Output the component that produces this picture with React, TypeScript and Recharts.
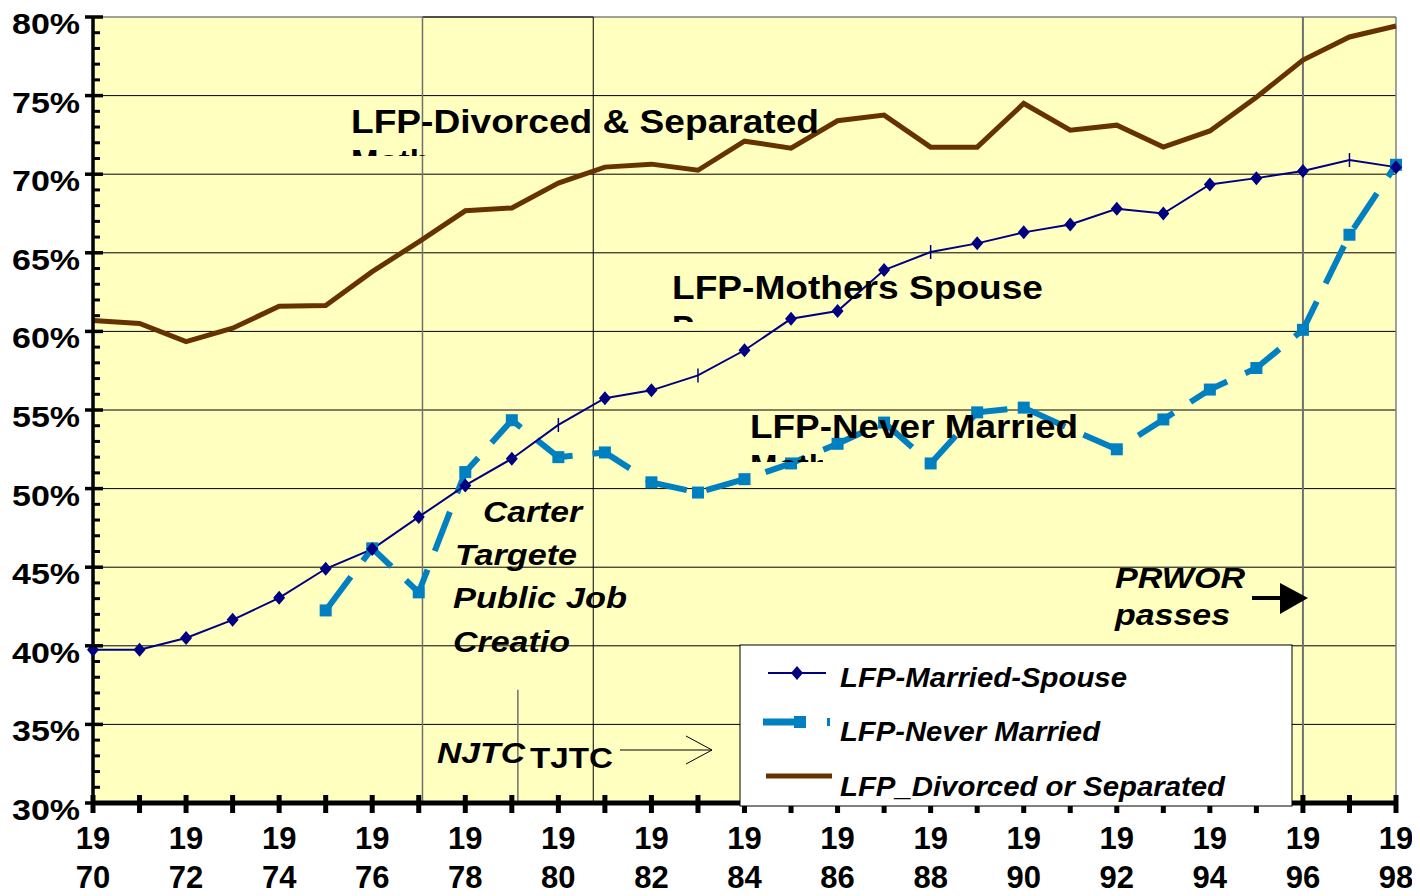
import React from 'react';
import { LineChart, Line, XAxis, YAxis, ReferenceLine, CartesianGrid } from 'recharts';

const years = [1970, 1971, 1972, 1973, 1974, 1975, 1976, 1977, 1978, 1979, 1980, 1981, 1982, 1983, 1984, 1985, 1986, 1987, 1988, 1989, 1990, 1991, 1992, 1993, 1994, 1995, 1996, 1997, 1998];
const marriedSpouse = [39.75, 39.75, 40.5, 41.65, 43.05, 44.9, 46.15, 48.2, 50.2, 51.9, 54.05, 55.75, 56.25, 57.2, 58.8, 60.8, 61.3, 63.9, 65.05, 65.6, 66.3, 66.8, 67.8, 67.5, 69.35, 69.75, 70.2, 70.9, 70.45];
const neverMarried = [null, null, null, null, null, 42.25, 46.2, 43.4, 51.05, 54.35, 52.0, 52.3, 50.4, 49.75, 50.6, 51.6, 52.85, 54.2, 51.6, 54.85, 55.15, 53.8, 52.5, 54.4, 56.3, 57.67, 60.1, 66.15, 70.6];
const divorcedSeparated = [60.7, 60.5, 59.35, 60.2, 61.6, 61.65, 63.8, 65.7, 67.67, 67.85, 69.43, 70.45, 70.64, 70.25, 72.1, 71.66, 73.4, 73.76, 71.72, 71.72, 74.5, 72.8, 73.12, 71.73, 72.75, 74.9, 77.26, 78.73, 79.43];

const gridValues = [35, 40, 45, 50, 55, 60, 65, 70, 75];
const yAllTicks = Array.from({ length: 51 }, (_, i) => 30 + i);
const marriedTickMarkYears = [1980, 1983, 1988, 1997];
const neverNoMarkerYears = [1991];

const NAVY = '#000080';
const BLUE = '#0080C0';
const BROWN = '#663300';
const FONT = "'Liberation Sans', Arial, sans-serif";

const seriesLegend = [
  { name: 'LFP-Married-Spouse', kind: 'married', len: 287 },
  { name: 'LFP-Never Married', kind: 'never', len: 260 },
  { name: 'LFP_Divorced or Separated', kind: 'divorced', len: 385 },
];

const data = years.map((year, i) => ({
  year,
  married: marriedSpouse[i],
  never: neverMarried[i],
  divorced: divorcedSeparated[i],
}));

const YTick = (props: any) => {
  const { x, y, payload } = props;
  const v = payload.value;
  const major = v % 5 === 0;
  return (
    <g>
      {major ? (
        <line x1={x - 8} x2={x + 10} y1={y} y2={y} stroke="#000" strokeWidth={3.5} />
      ) : (
        <line x1={x} x2={x + 7} y1={y} y2={y} stroke="#000" strokeWidth={3} />
      )}
      {major && (
        <text x={x - 13} y={y + 17} textAnchor="end" fontFamily={FONT} fontWeight="bold" fontSize={30} fill="#000" textLength={68} lengthAdjust="spacingAndGlyphs">
          {`${v}%`}
        </text>
      )}
    </g>
  );
};

const XTick = (props: any) => {
  const { x, y, payload } = props;
  const yr = payload.value;
  return (
    <g>
      <line x1={x} x2={x} y1={y - 8} y2={y + 10} stroke="#000" strokeWidth={5} />
      {yr % 2 === 0 && (
        <text textAnchor="middle" fontFamily={FONT} fontWeight="bold" fontSize={31} fill="#000">
          <tspan x={x} y={y + 46}>{String(yr).slice(0, 2)}</tspan>
          <tspan x={x} y={y + 85}>{String(yr).slice(2)}</tspan>
        </text>
      )}
    </g>
  );
};

const MarriedDot = (props: any) => {
  const { cx, cy, payload } = props;
  if (cx == null || cy == null) return <g />;
  if (marriedTickMarkYears.includes(payload.year)) {
    return <line x1={cx} x2={cx} y1={cy - 7} y2={cy + 7} stroke={NAVY} strokeWidth={1.5} />;
  }
  return <polygon points={`${cx},${cy - 7} ${cx + 6},${cy} ${cx},${cy + 7} ${cx - 6},${cy}`} fill={NAVY} />;
};

const NeverDot = (props: any) => {
  const { cx, cy, payload } = props;
  if (cx == null || cy == null || payload.never == null) return <g />;
  if (neverNoMarkerYears.includes(payload.year)) return <g />;
  return <rect x={cx - 6} y={cy - 6} width={12} height={12} fill={BLUE} />;
};

const boldText = { fontFamily: FONT, fontWeight: 'bold' as const, fill: '#000' };

export default function App() {
  return (
    <div style={{ position: 'relative', width: 1404, height: 888 }}>
      <LineChart width={1404} height={888} data={data} margin={{ top: 9, right: 16, bottom: 0, left: 0 }}>
        <CartesianGrid fill="#FFFFC0" horizontal={false} vertical={false} />
        {gridValues.map((v) => (
          <ReferenceLine key={`g${v}`} y={v} stroke="#000" strokeWidth={1} />
        ))}
        <ReferenceLine y={80} stroke="#808080" strokeWidth={1.5} />
        <ReferenceLine x={1998} stroke="#808080" strokeWidth={1.5} />
        <ReferenceLine segment={[{ x: 1977.08, y: 80 }, { x: 1980.75, y: 80 }]} stroke="#000" strokeWidth={1} />
        <ReferenceLine x={1977.08} stroke="#707070" strokeWidth={1.5} />
        <ReferenceLine x={1980.75} stroke="#000" strokeWidth={1} />
        <ReferenceLine x={1996} stroke="#707070" strokeWidth={2} />
        <ReferenceLine segment={[{ x: 1979.13, y: 37.2 }, { x: 1979.13, y: 30 }]} stroke="#707070" strokeWidth={1.5} />
        <XAxis
          type="number"
          dataKey="year"
          domain={[1970, 1998]}
          ticks={years}
          interval={0}
          tick={<XTick />}
          tickLine={false}
          tickSize={0}
          tickMargin={0}
          height={93}
          axisLine={{ stroke: '#000', strokeWidth: 5 }}
        />
        <YAxis
          type="number"
          domain={[30, 80]}
          ticks={yAllTicks}
          interval={0}
          tick={<YTick />}
          tickLine={false}
          tickSize={0}
          tickMargin={0}
          width={85}
          axisLine={{ stroke: '#000', strokeWidth: 3.5 }}
        />
        <Line type="linear" dataKey="divorced" stroke={BROWN} strokeWidth={5} dot={false} activeDot={false} isAnimationActive={false} />
        <Line type="linear" dataKey="never" stroke={BLUE} strokeWidth={6} strokeDasharray="42 20" dot={<NeverDot />} activeDot={false} isAnimationActive={false} />
        <Line type="linear" dataKey="married" stroke={NAVY} strokeWidth={2} dot={<MarriedDot />} activeDot={false} isAnimationActive={false} />
      </LineChart>
      <svg width={1404} height={888} style={{ position: 'absolute', left: 0, top: 0, pointerEvents: 'none' }}>
        <defs>
          <clipPath id="clipDiv"><rect x={330} y={141} width={88} height={7} /></clipPath>
          <clipPath id="clipMoth"><rect x={655} y={306} width={30} height={8} /></clipPath>
          <clipPath id="clipNev"><rect x={735} y={446} width={80} height={8} /></clipPath>
        </defs>
        <text x={343} y={125} {...boldText} fontSize={33} textLength={468} lengthAdjust="spacingAndGlyphs">LFP-Divorced &amp; Separated</text>
        <text x={343} y={165} {...boldText} fontSize={33} clipPath="url(#clipDiv)">Mothers</text>
        <text x={664} y={291} {...boldText} fontSize={33} textLength={371} lengthAdjust="spacingAndGlyphs">LFP-Mothers Spouse</text>
        <text x={664} y={331} {...boldText} fontSize={33} clipPath="url(#clipMoth)">Partner</text>
        <text x={742} y={430} {...boldText} fontSize={33} textLength={328} lengthAdjust="spacingAndGlyphs">LFP-Never Married</text>
        <text x={742} y={470} {...boldText} fontSize={33} clipPath="url(#clipNev)">Mothers</text>

        <text x={475} y={514} {...boldText} fontStyle="italic" fontSize={29} textLength={99} lengthAdjust="spacingAndGlyphs">Carter</text>
        <text x={447} y={557} {...boldText} fontStyle="italic" fontSize={29} textLength={122} lengthAdjust="spacingAndGlyphs">Targete</text>
        <text x={445} y={600} {...boldText} fontStyle="italic" fontSize={29} textLength={174} lengthAdjust="spacingAndGlyphs">Public Job</text>
        <text x={445} y={644} {...boldText} fontStyle="italic" fontSize={29} textLength={117} lengthAdjust="spacingAndGlyphs">Creatio</text>

        <text x={429} y={755} {...boldText} fontStyle="italic" fontSize={29} textLength={88} lengthAdjust="spacingAndGlyphs">NJTC</text>
        <text x={522} y={760} {...boldText} fontSize={29} textLength={83} lengthAdjust="spacingAndGlyphs">TJTC</text>
        <line x1={612} y1={742} x2={704} y2={742} stroke="#000" strokeWidth={1} />
        <polyline points="678,728 704,742 678,756" fill="none" stroke="#000" strokeWidth={1} />

        <text x={1107} y={580} {...boldText} fontStyle="italic" fontSize={29} textLength={130} lengthAdjust="spacingAndGlyphs">PRWOR</text>
        <text x={1107} y={617} {...boldText} fontStyle="italic" fontSize={29} textLength={115} lengthAdjust="spacingAndGlyphs">passes</text>
        <line x1={1244} y1={590} x2={1276} y2={590} stroke="#000" strokeWidth={4} />
        <polygon points="1272,575 1300,590 1272,606" fill="#000" />

        <g>
          <rect x={732} y={637} width={552} height={161} fill="#fff" stroke="#000" strokeWidth={1} />
          {seriesLegend.map((s, i) => {
            const cy = [665, 714, 768][i];
            const ty = [679, 733, 788][i];
            return (
              <g key={s.name}>
                {s.kind === 'married' && (
                  <g>
                    <line x1={760} x2={818} y1={cy} y2={cy} stroke={NAVY} strokeWidth={2} />
                    <polygon points={`789,${cy - 7} 795,${cy} 789,${cy + 7} 783,${cy}`} fill={NAVY} />
                  </g>
                )}
                {s.kind === 'never' && (
                  <g>
                    <line x1={755} x2={790} y1={cy} y2={cy} stroke={BLUE} strokeWidth={7} />
                    <rect x={786} y={cy - 6} width={12} height={12} fill={BLUE} />
                    <rect x={819} y={cy - 4} width={3} height={8} fill={BLUE} />
                  </g>
                )}
                {s.kind === 'divorced' && (
                  <line x1={758} x2={824} y1={cy} y2={cy} stroke={BROWN} strokeWidth={5} />
                )}
                <text x={832} y={ty} {...boldText} fontStyle="italic" fontSize={28} textLength={s.len} lengthAdjust="spacingAndGlyphs">{s.name}</text>
              </g>
            );
          })}
        </g>
      </svg>
    </div>
  );
}
